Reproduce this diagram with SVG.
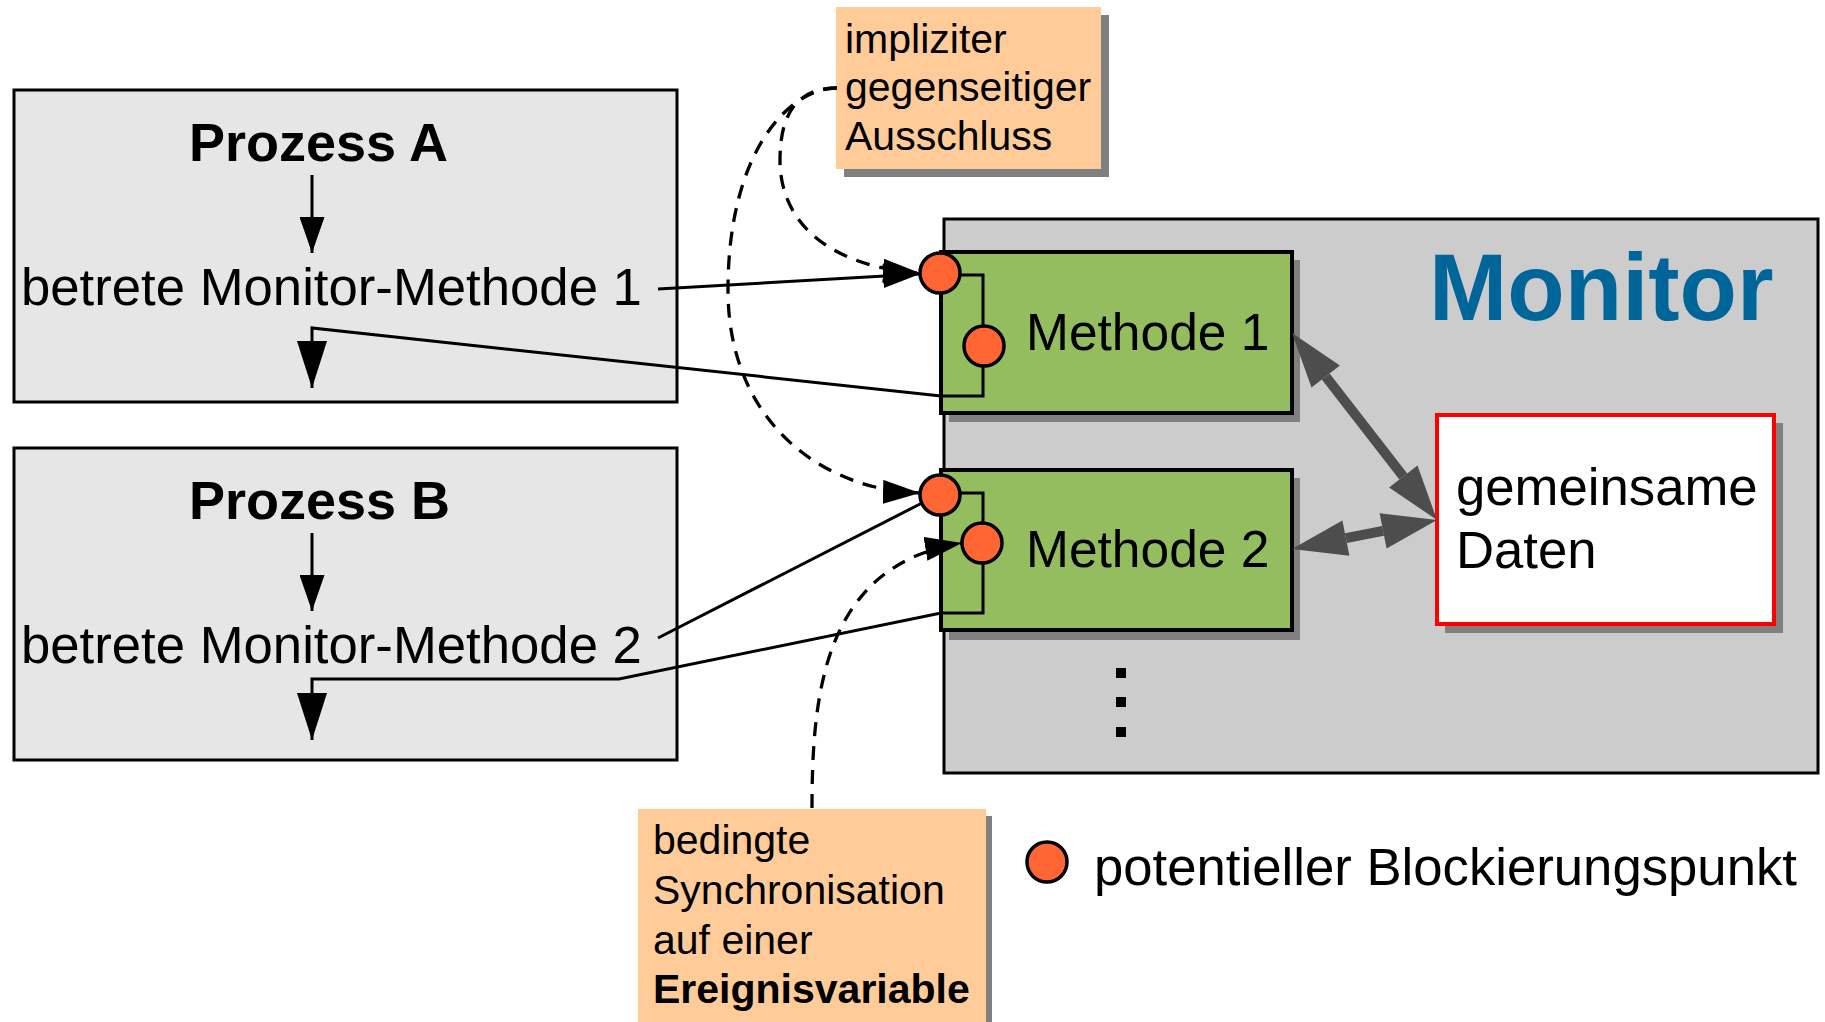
<svg xmlns="http://www.w3.org/2000/svg" width="1825" height="1022" viewBox="0 0 1825 1022">
<defs>
<style>
text{font-family:"Liberation Sans",Arial,sans-serif;fill:#000}
.proc{fill:#e6e6e6;stroke:#000;stroke-width:3}
.meth{fill:#93bd5e;stroke:#000;stroke-width:4}
.shadow{fill:#808080}
.note{fill:#ffcc99}
.bp{fill:#ff6633;stroke:#000;stroke-width:3.5}
.ln{fill:none;stroke:#000;stroke-width:3}
.dash{fill:none;stroke:#000;stroke-width:3.3;stroke-dasharray:14 10}
.big{font-size:52.7px}
.nt{font-size:41px}
.da{fill:#4d4d4d}
</style>
<marker id="ah" viewBox="0 0 37 24" refX="37" refY="12" markerWidth="37" markerHeight="24" markerUnits="userSpaceOnUse" orient="auto"><path d="M0,0 L37,12 L0,24 z" fill="#000"/></marker>
<marker id="ahm" viewBox="0 0 36 25" refX="36" refY="12.5" markerWidth="36" markerHeight="25" markerUnits="userSpaceOnUse" orient="auto"><path d="M0,0 L36,12.5 L0,25 z" fill="#000"/></marker>
<marker id="ahb" viewBox="0 0 47 30" refX="47" refY="15" markerWidth="47" markerHeight="30" markerUnits="userSpaceOnUse" orient="auto"><path d="M0,0 L47,15 L0,30 z" fill="#000"/></marker>
</defs>
<rect width="1825" height="1022" fill="#fff"/>

<g id="prozessA">
<rect class="proc" x="14" y="90" width="663" height="312"/>
<text x="189" y="161" font-size="54" font-weight="bold">Prozess A</text>
<line class="ln" x1="312" y1="175" x2="312" y2="253" marker-end="url(#ahm)"/>
<text x="21" y="305" class="big">betrete Monitor-Methode 1</text>
</g>

<g id="prozessB">
<rect class="proc" x="14" y="448" width="663" height="312"/>
<text x="189" y="519" font-size="54" font-weight="bold">Prozess B</text>
<line class="ln" x1="312" y1="533" x2="312" y2="611" marker-end="url(#ahm)"/>
<text x="21" y="663" class="big">betrete Monitor-Methode 2</text>
</g>

<g id="monitor">
<rect x="944" y="219" width="874" height="554" fill="#cccccc" stroke="#000" stroke-width="3"/>
<text x="1429" y="320" font-size="94" font-weight="bold" style="fill:#006699">Monitor</text>
<rect x="1116" y="668" width="10" height="10" fill="#000"/>
<rect x="1116" y="697" width="10" height="10" fill="#000"/>
<rect x="1116" y="727" width="10" height="10" fill="#000"/>
</g>

<g id="methode1">
<rect class="shadow" x="949" y="260" width="351" height="162"/>
<rect class="meth" x="941" y="252" width="351" height="161"/>
<text x="1026" y="350" font-size="51.5">Methode 1</text>
</g>

<g id="methode2">
<rect class="shadow" x="949" y="478" width="351" height="162"/>
<rect class="meth" x="941" y="470" width="351" height="160"/>
<text x="1026" y="567" font-size="51.5">Methode 2</text>
</g>

<g id="daten">
<rect class="shadow" x="1445" y="423" width="338" height="210"/>
<rect x="1437" y="415" width="337" height="209" fill="#fff" stroke="#ff0000" stroke-width="4"/>
<text x="1456" y="505" class="big">gemeinsame</text>
<text x="1456" y="568" class="big">Daten</text>
</g>

<g id="note1">
<rect class="shadow" x="844" y="15" width="265" height="162"/>
<rect class="note" x="836" y="7" width="265" height="162"/>
<text x="845" y="53" class="nt">impliziter</text>
<text x="845" y="101" class="nt">gegenseitiger</text>
<text x="845" y="150" class="nt">Ausschluss</text>
</g>

<g id="note2">
<rect class="shadow" x="644" y="816" width="348" height="212"/>
<rect class="note" x="638" y="809" width="348" height="213"/>
<text x="653" y="854" class="nt">bedingte</text>
<text x="653" y="904" class="nt">Synchronisation</text>
<text x="653" y="954" class="nt">auf einer</text>
<text x="653" y="1003" class="nt" font-weight="bold">Ereignisvariable</text>
</g>

<g id="legende">
<circle class="bp" cx="1047" cy="862" r="20"/>
<text x="1094" y="885" class="big">potentieller Blockierungspunkt</text>
</g>

<g id="connectors">
<path class="ln" d="M658,289 L920,274" marker-end="url(#ah)"/>
<path class="ln" d="M940,275 H983 V396 H941 L312,328 V388" marker-end="url(#ahb)"/>
<path class="ln" d="M658,638 L922,503"/>
<path class="ln" d="M940,493 H983 V613 H941 L619,679 H312 V740" marker-end="url(#ahb)"/>
<path class="dash" d="M837,88 C800,88 780,110 780,160 C780,230 840,268 920,273" marker-end="url(#ah)"/>
<path class="dash" d="M837,88 C790,88 728,150 728,290 C728,420 820,490 920,493" marker-end="url(#ah)"/>
<path class="dash" d="M812,808 C812,690 825,565 962,543" marker-end="url(#ah)"/>
<line x1="1325.7" y1="376.5" x2="1403.3" y2="476.5" stroke="#4d4d4d" stroke-width="10"/>
<polygon class="da" points="1292,333 1311.5,387.5 1339.9,365.5"/>
<polygon class="da" points="1437,520 1389.1,487.5 1417.5,465.5"/>
<line x1="1345.9" y1="538.2" x2="1383.1" y2="530.8" stroke="#4d4d4d" stroke-width="10"/>
<polygon class="da" points="1292,549 1349.4,555.8 1342.4,520.6"/>
<polygon class="da" points="1437,520 1386.6,548.4 1379.6,513.2"/>
</g>

<g id="blockierungspunkte">
<circle class="bp" cx="940" cy="273" r="20"/>
<circle class="bp" cx="984" cy="346" r="20"/>
<circle class="bp" cx="940" cy="495" r="20"/>
<circle class="bp" cx="982" cy="543" r="20"/>
</g>
</svg>
